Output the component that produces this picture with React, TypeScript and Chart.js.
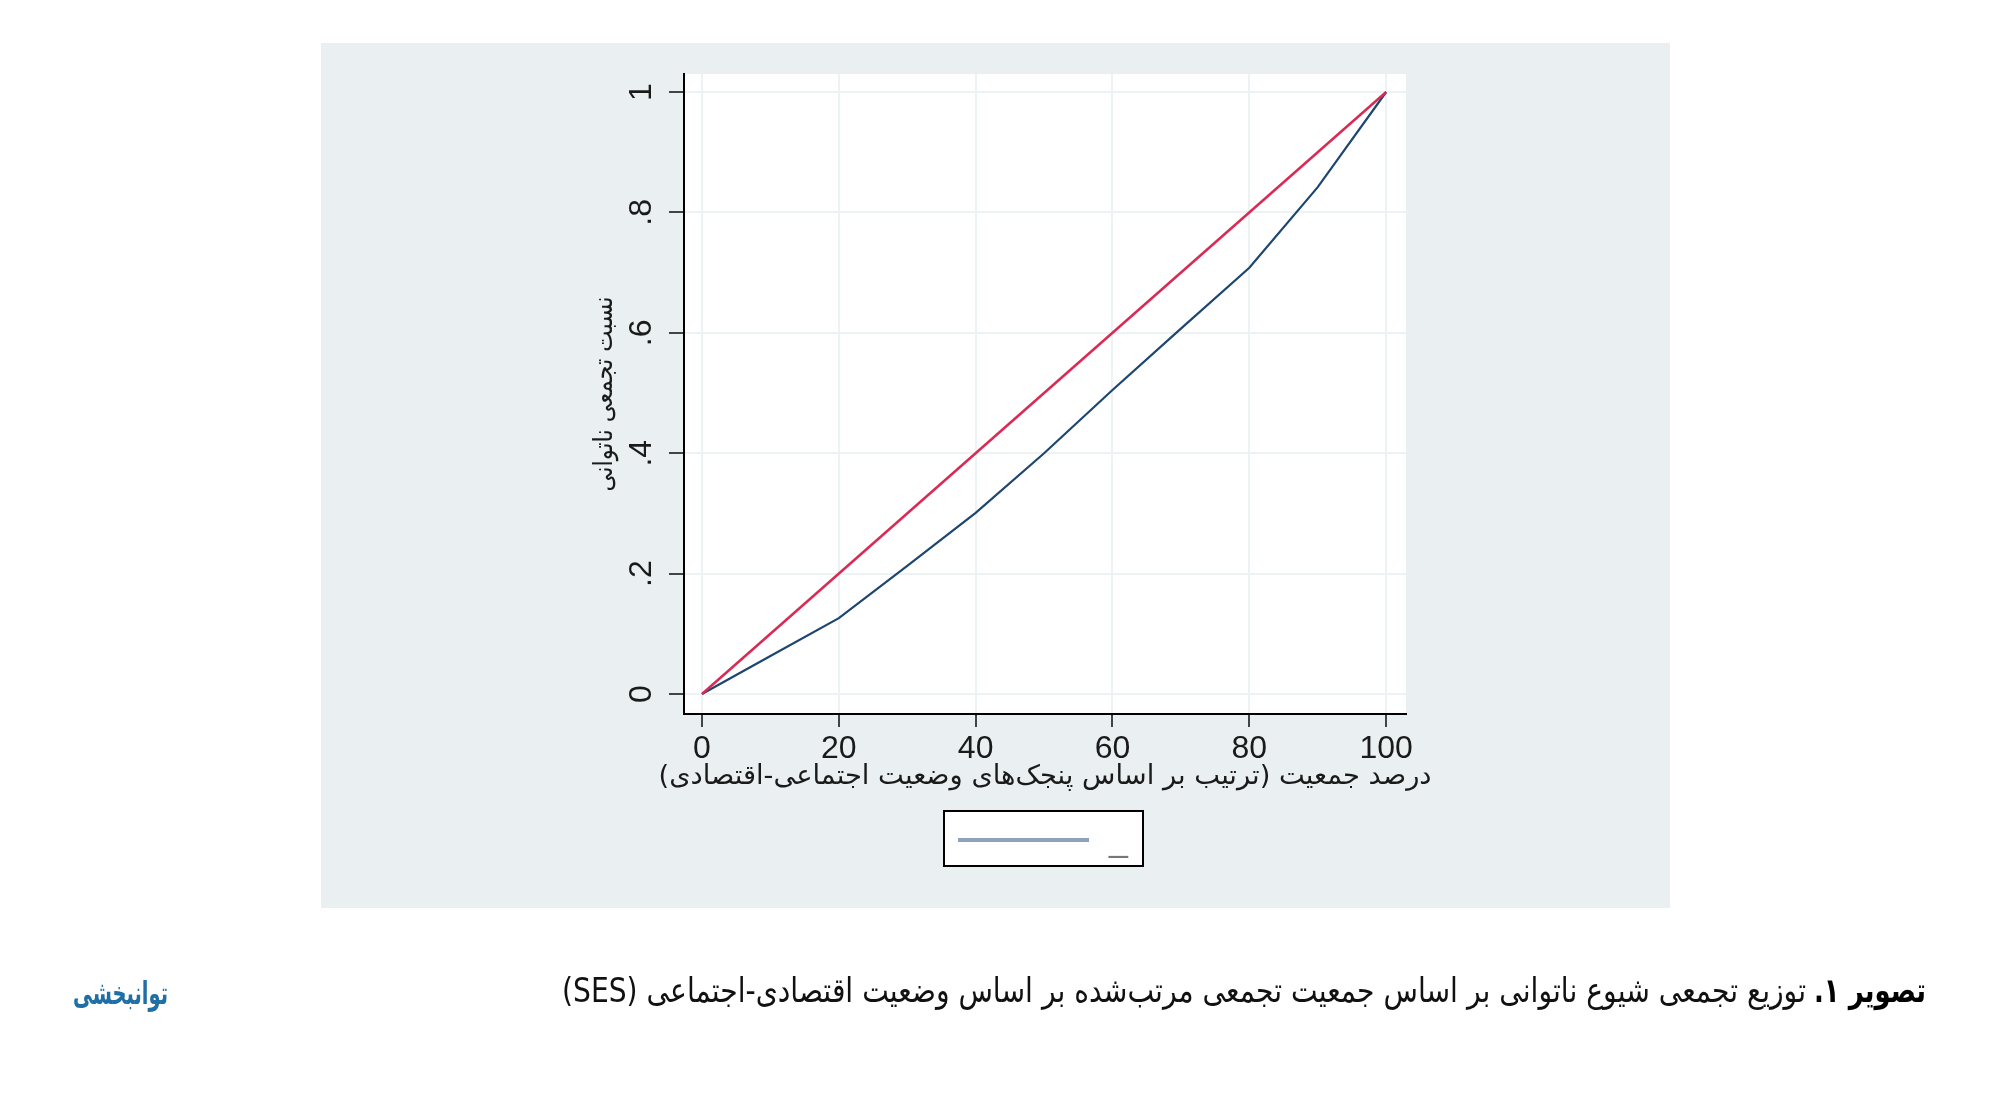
import React, { useEffect, useRef } from "react";
import { Chart, registerables } from "chart.js";

Chart.register(...registerables);

// ---- data ----
const populationPercent = [0, 10, 20, 30, 40, 50, 60, 70, 80, 90, 100];
const cumulativeDisability = [0, 0.063, 0.126, 0.213, 0.301, 0.4, 0.505, 0.607, 0.708, 0.842, 1];
const equalityPercent = [0, 100];
const equalityShare = [0, 1];
const xTickValues = [0, 20, 40, 60, 80, 100];
const yTickValues = [0, 0.2, 0.4, 0.6, 0.8, 1];
const yTickLabels = ["0", ".2", ".4", ".6", ".8", "1"];
const xAxisTitle = "درصد جمعیت (ترتیب بر اساس پنجک‌های وضعیت اجتماعی-اقتصادی)";
const yAxisTitle = "نسبت تجمعی ناتوانی";
const legendLabel = "_";
const captionLead = "تصویر ۱.";
const captionBody =
  "توزیع تجمعی شیوع ناتوانی بر اساس جمعیت تجمعی مرتب‌شده بر اساس وضعیت اقتصادی-اجتماعی (SES)";
const logoText = "توانبخشی";

const LATIN = "'Liberation Sans', Arial, sans-serif";
const PERSIAN = "'DejaVu Sans', 'Noto Sans', sans-serif";

function drawFitted(
  ctx: CanvasRenderingContext2D,
  text: string,
  x: number,
  y: number,
  targetW: number,
  font: string,
  color: string,
  align: CanvasTextAlign,
  rotate = 0
) {
  ctx.save();
  ctx.font = font;
  (ctx as any).direction = "rtl";
  const w = ctx.measureText(text).width || 1;
  ctx.translate(x, y);
  if (rotate) ctx.rotate(rotate);
  ctx.scale(targetW / w, 1);
  ctx.fillStyle = color;
  ctx.textAlign = align;
  ctx.textBaseline = "alphabetic";
  ctx.fillText(text, 0, 0);
  ctx.restore();
}

const decorPlugin = {
  id: "decor",
  beforeDraw(chart: any) {
    const { ctx, chartArea: a } = chart;
    ctx.save();
    ctx.fillStyle = "#ffffff";
    ctx.fillRect(0, 0, chart.width, chart.height);
    ctx.fillStyle = "#eaf0f2";
    ctx.fillRect(321, 43, 1349, 865);
    ctx.fillStyle = "#ffffff";
    ctx.fillRect(a.left, a.top, a.right - a.left, a.bottom - a.top);
    ctx.restore();
  },
  afterDraw(chart: any) {
    const { ctx, chartArea: a } = chart;
    const ys = chart.scales.y;
    // rotated y tick labels
    ctx.save();
    ctx.font = `32px ${LATIN}`;
    ctx.fillStyle = "#1a1a1a";
    ctx.textAlign = "center";
    ctx.textBaseline = "alphabetic";
    yTickValues.forEach((v, i) => {
      const py = ys.getPixelForValue(v);
      ctx.save();
      ctx.translate(651, py);
      ctx.rotate(-Math.PI / 2);
      ctx.fillText(yTickLabels[i], 0, 0);
      ctx.restore();
    });
    ctx.restore();

    // axis titles
    const cx = (a.left + a.right) / 2;
    const cy = (a.top + a.bottom) / 2;
    drawFitted(ctx, xAxisTitle, cx, 784, 773, `27px ${PERSIAN}`, "#1a1a1a", "center");
    drawFitted(ctx, yAxisTitle, 612, cy, 195, `26px ${PERSIAN}`, "#1a1a1a", "center", -Math.PI / 2);

    // legend box
    ctx.save();
    ctx.fillStyle = "#ffffff";
    ctx.fillRect(944, 811, 199, 55);
    ctx.strokeStyle = "#000000";
    ctx.lineWidth = 2;
    ctx.strokeRect(944, 811, 199, 55);
    ctx.strokeStyle = "#8ea3b9";
    ctx.lineWidth = 4;
    ctx.beginPath();
    ctx.moveTo(958, 840);
    ctx.lineTo(1089, 840);
    ctx.stroke();
    ctx.fillStyle = "#777777";
    ctx.font = `34px ${LATIN}`;
    ctx.textAlign = "left";
    ctx.textBaseline = "alphabetic";
    ctx.fillText(legendLabel, 1109, 851);
    ctx.restore();

    // caption and logo
    drawFitted(ctx, captionLead, 1926, 1002, 112, `bold 34px ${PERSIAN}`, "#000000", "right");
    drawFitted(ctx, captionBody, 1806, 1002, 1244, `34px ${PERSIAN}`, "#111111", "right");
    drawFitted(ctx, logoText, 168, 1004, 95, `bold 32px ${PERSIAN}`, "#1d6fa5", "right");
  },
};

export default function App() {
  const ref = useRef<HTMLCanvasElement | null>(null);

  useEffect(() => {
    if (!ref.current) return;
    const chart = new Chart(ref.current, {
      type: "line",
      data: {
        datasets: [
          {
            label: "equality",
            data: equalityPercent.map((x, i) => ({ x, y: equalityShare[i] })),
            borderColor: "#d92a54",
            borderWidth: 2.5,
            pointRadius: 0,
            tension: 0,
            fill: false,
          },
          {
            label: legendLabel,
            data: populationPercent.map((x, i) => ({ x, y: cumulativeDisability[i] })),
            borderColor: "#1d4670",
            borderWidth: 2.2,
            pointRadius: 0,
            tension: 0,
            fill: false,
          },
        ],
      },
      options: {
        animation: false,
        responsive: false,
        devicePixelRatio: 1,
        layout: { padding: { left: 584, top: 74, right: 594, bottom: 294 } },
        plugins: { legend: { display: false }, tooltip: { enabled: false }, title: { display: false } },
        scales: {
          x: {
            type: "linear",
            min: -2.63,
            max: 102.9,
            afterBuildTicks: (s: any) => {
              s.ticks = xTickValues.map((v) => ({ value: v }));
            },
            afterFit: (s: any) => {
              s.height = 100;
            },
            grid: {
              color: "#edf2f5",
              lineWidth: 2,
              tickColor: "#444444",
              tickWidth: 2,
              tickLength: 13,
            },
            border: { display: true, color: "#000000", width: 2 },
            ticks: {
              autoSkip: false,
              maxRotation: 0,
              minRotation: 0,
              padding: 3,
              color: "#1a1a1a",
              font: { family: LATIN, size: 32 },
              callback: (v: any) => String(v),
            },
          },
          y: {
            type: "linear",
            min: -0.0332,
            max: 1.0299,
            afterBuildTicks: (s: any) => {
              s.ticks = yTickValues.map((v) => ({ value: v }));
            },
            afterFit: (s: any) => {
              s.width = 100;
            },
            grid: {
              color: "#edf2f5",
              lineWidth: 2,
              tickColor: "#444444",
              tickWidth: 2,
              tickLength: 15,
            },
            border: { display: true, color: "#000000", width: 2 },
            ticks: { display: false },
          },
        },
      },
      plugins: [decorPlugin],
    } as any);
    return () => chart.destroy();
  }, []);

  return (
    <div style={{ position: "absolute", left: 0, top: 0, width: 2000, height: 1108 }}>
      <canvas ref={ref} width={2000} height={1108} style={{ width: 2000, height: 1108, display: "block" }} />
    </div>
  );
}
